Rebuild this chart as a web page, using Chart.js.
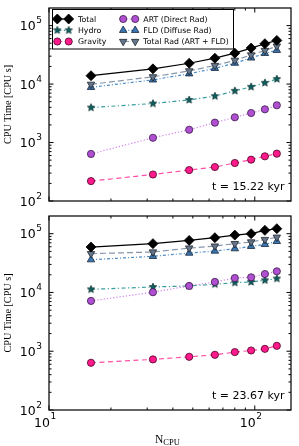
<!DOCTYPE html>
<html>
<head>
<meta charset="utf-8">
<script src="https://cdn.jsdelivr.net/npm/chart.js@4.4.1/dist/chart.umd.min.js"></script>
<style>
  html, body { margin: 0; padding: 0; background: #fff; }
  #wrap { position: relative; width: 299px; height: 446px; }
  canvas { position: absolute; left: 0; }
  #chartTop { top: 0; }
  #chartBot { top: 210px; }
</style>
</head>
<body>
<div id="wrap">
  <canvas id="chartTop" width="299" height="210"></canvas>
  <canvas id="chartBot" width="299" height="236"></canvas>
</div>
<script>
// CPU time scaling, two snapshots

const nCpu = [16, 32, 48, 64, 80, 96, 112, 128];

// upper panel (t = 15.22 kyr)
const totalTop = [13900, 18200, 22700, 27700, 33800, 41300, 49000, 55800];
const hydroTop = [3960, 4650, 5360, 6210, 7650, 8970, 10500, 12200];
const gravTop  = [219, 284, 338, 381, 447, 509, 581, 646];
const artTop   = [638, 1205, 1655, 2190, 2700, 3200, 3700, 4340];
const fldTop   = [8800, 11800, 15000, 18600, 22800, 28000, 33500, 37800];
const radTop   = [9900, 13300, 16800, 20800, 25500, 31500, 37500, 44500];

// lower panel (t = 23.67 kyr)
const totalBot = [59300, 67700, 76900, 85500, 94600, 100000, 114000, 121600];
const hydroBot = [11300, 12400, 12900, 13800, 14700, 15100, 16100, 17200];
const gravBot  = [636, 726, 804, 869, 966, 1030, 1097, 1236];
const artBot   = [7180, 10100, 12900, 15100, 17600, 18100, 20600, 22900];
const fldBot   = [36100, 41200, 46800, 50700, 55600, 61000, 65800, 74000];
const radBot   = [45700, 48800, 56900, 61600, 67700, 72400, 79500, 87100];

const seriesNames = ['Total', 'Hydro', 'Gravity', 'ART (Direct Rad)', 'FLD (Diffuse Rad)', 'Total Rad (ART + FLD)'];
const timeLabels = ['t = 15.22 kyr', 't = 23.67 kyr'];

const xMajor = [10, 100];
const xMinor = [20, 30, 40, 50, 60, 70, 80, 90];
const yMajor = [100, 1000, 10000, 100000];
const xMin = 10, xMax = 150;
const yMin = 100, yMax = 200000;

//-----MARKERS
function makeStar(r, fill, edge){
  const c = document.createElement('canvas');
  const s = Math.ceil(2 * r + 2);
  c.width = s; c.height = s;
  const g = c.getContext('2d');
  g.beginPath();
  for (let i = 0; i < 10; i++){
    const rr = i % 2 ? r * 0.45 : r;
    const a = -Math.PI / 2 + i * Math.PI / 5;
    g.lineTo(s / 2 + rr * Math.cos(a), s / 2 + rr * Math.sin(a));
  }
  g.closePath();
  g.fillStyle = fill; g.fill();
  g.lineWidth = 0.7; g.strokeStyle = edge; g.stroke();
  return c;
}
const starImg = makeStar(3.9, '#0f5f5f', '#062a2a');

const styles = [
  {line: '#000000', fill: '#000000', edge: '#000000', pt: 'rectRot',  r: 5,   rot: 0,   dash: [],             order: 0},
  {line: '#3a9e9e', fill: '#0f5f5f', edge: '#062a2a', pt: starImg,    r: 4,   rot: 0,   dash: [4, 2.5, 1.2, 2.5], order: 3},
  {line: '#ff4da6', fill: '#ff1a8c', edge: '#4a0026', pt: 'circle',   r: 3.6, rot: 0,   dash: [5, 3.5],       order: 2},
  {line: '#cf80ec', fill: '#b04fd2', edge: '#3a1a48', pt: 'circle',   r: 3.6, rot: 0,   dash: [1.2, 2],       order: 1},
  {line: '#4a8cc6', fill: '#3b77b3', edge: '#14243a', pt: 'triangle', r: 4.3, rot: 0,   dash: [3, 2, 1, 2],   order: 5},
  {line: '#8797aa', fill: '#66768a', edge: '#1e242c', pt: 'triangle', r: 4.3, rot: 180, dash: [6, 3],         order: 4}
];

function buildDatasets(series){
  return series.map((vals, i) => {
    const s = styles[i];
    return {
      label: seriesNames[i],
      data: nCpu.map((n, k) => ({x: n, y: vals[k]})),
      borderColor: s.line,
      borderWidth: 1.2,
      borderDash: s.dash,
      pointStyle: s.pt,
      pointRotation: s.rot,
      pointRadius: s.r,
      pointBackgroundColor: s.fill,
      pointBorderColor: s.edge,
      pointBorderWidth: 0.8,
      order: s.order,
      tension: 0,
      fill: false
    };
  });
}

//-----DECOR
function drawPow(ctx, exp, x, base, align){
  const main = '12.5px "DejaVu Sans"';
  const sup = '9px "DejaVu Sans"';
  ctx.font = sup;
  const ws = ctx.measureText(String(exp)).width;
  ctx.textBaseline = 'alphabetic';
  if (align === 'right'){
    ctx.font = main; ctx.textAlign = 'right';
    ctx.fillText('10', x - ws - 0.5, base);
    ctx.font = sup; ctx.textAlign = 'left';
    ctx.fillText(String(exp), x - ws, base - 7);
  } else {
    ctx.font = main; ctx.textAlign = 'right';
    ctx.fillText('10', x + 1, base);
    ctx.font = sup; ctx.textAlign = 'left';
    ctx.fillText(String(exp), x + 1.5, base - 7.5);
  }
}

function seg(ctx, x1, y1, x2, y2){
  ctx.beginPath(); ctx.moveTo(x1, y1); ctx.lineTo(x2, y2); ctx.stroke();
}

function drawLegend(chart){
  const ctx = chart.ctx;
  ctx.save();
  ctx.fillStyle = '#fff';
  ctx.fillRect(52.5, 9.5, 181, 39.5);
  ctx.strokeStyle = '#000'; ctx.lineWidth = 1;
  ctx.strokeRect(52.5, 9.5, 181, 39.5);
  const rows = [19, 30.3, 41.5];
  const cols = [[57.3, 68.7, 78], [123.2, 135.2, 143.3]];
  chart.data.datasets.forEach((ds, i) => {
    const c = cols[Math.floor(i / 3)];
    const y = rows[i % 3];
    ctx.strokeStyle = ds.borderColor; ctx.lineWidth = ds.borderWidth;
    ctx.setLineDash(ds.borderDash);
    seg(ctx, c[0], y, c[1], y);
    ctx.setLineDash([]);
    [c[0], c[1]].forEach(x => {
      ctx.fillStyle = ds.pointBackgroundColor;
      ctx.strokeStyle = ds.pointBorderColor;
      ctx.lineWidth = ds.pointBorderWidth;
      Chart.helpers.drawPoint(ctx, {pointStyle: ds.pointStyle, rotation: ds.pointRotation, radius: ds.pointRadius, borderWidth: ds.pointBorderWidth}, x, y);
    });
    ctx.fillStyle = '#000';
    ctx.font = '7.8px "DejaVu Sans"';
    ctx.textAlign = 'left'; ctx.textBaseline = 'alphabetic';
    ctx.fillText(ds.label, c[2], y + 2.9);
  });
  ctx.restore();
}

function panelDecor(timeText, isTop){
  return {
    id: 'panelDecor',
    afterDatasetsDraw(chart){
      const {ctx, chartArea: a, scales: {x, y}} = chart;
      ctx.save();
      // ticks, all pointing inward
      ctx.strokeStyle = '#000'; ctx.lineWidth = 1;
      xMajor.forEach(v => { const p = x.getPixelForValue(v); seg(ctx, p, a.bottom, p, a.bottom - 4.5); seg(ctx, p, a.top, p, a.top + 4.5); });
      xMinor.forEach(v => { const p = x.getPixelForValue(v); seg(ctx, p, a.bottom, p, a.bottom - 2.5); seg(ctx, p, a.top, p, a.top + 2.5); });
      yMajor.forEach(v => { const p = y.getPixelForValue(v); seg(ctx, a.left, p, a.left + 4.5, p); seg(ctx, a.right, p, a.right - 4.5, p); });
      yMajor.forEach(v => {
        for (let k = 2; k <= 9; k++){
          const val = v * k;
          if (val >= yMax) break;
          const p = y.getPixelForValue(val);
          seg(ctx, a.left, p, a.left + 2.5, p); seg(ctx, a.right, p, a.right - 2.5, p);
        }
      });
      // frame
      ctx.strokeStyle = '#111'; ctx.lineWidth = 1.3;
      ctx.strokeRect(a.left, a.top, a.right - a.left, a.bottom - a.top);

      // tick labels
      ctx.fillStyle = '#000';
      yMajor.forEach(v => drawPow(ctx, Math.round(Math.log10(v)), 42, y.getPixelForValue(v) + 4.5, 'right'));
      if (!isTop){
        xMajor.forEach(v => drawPow(ctx, Math.round(Math.log10(v)), x.getPixelForValue(v), a.bottom + 16.5, 'left'));
        // N_CPU
        ctx.font = '11.5px "Liberation Serif"'; ctx.textAlign = 'left'; ctx.textBaseline = 'alphabetic';
        ctx.fillText('N', 155, a.bottom + 33);
        const wN = ctx.measureText('N').width;
        ctx.font = '8.5px "Liberation Serif"';
        ctx.fillText('CPU', 155 + wN, a.bottom + 35);
      }

      // axis title
      ctx.save();
      ctx.translate(10.5, (a.top + a.bottom) / 2);
      ctx.rotate(-Math.PI / 2);
      ctx.font = '10.2px "Liberation Serif"'; ctx.textAlign = 'center'; ctx.textBaseline = 'alphabetic';
      ctx.fillText('CPU Time [CPU s]', 0, 0);
      ctx.restore();

      // time stamp
      ctx.font = '11px "DejaVu Sans"'; ctx.textAlign = 'right'; ctx.textBaseline = 'alphabetic';
      ctx.fillText(timeText, 284.5, a.bottom - 11.2);
      ctx.restore();

      if (isTop) drawLegend(chart);
    }
  };
}

function makePanel(canvasId, series, timeText, isTop){
  const ctx = document.getElementById(canvasId).getContext('2d');
  return new Chart(ctx, {
    type: 'line',
    data: {datasets: buildDatasets(series)},
    plugins: [panelDecor(timeText, isTop)],
    options: {
      responsive: false,
      animation: false,
      devicePixelRatio: 1,
      events: [],
      layout: {padding: isTop ? {top: 8, right: 8, bottom: 9, left: 0} : {top: 6, right: 8, bottom: 0, left: 0}},
      plugins: {legend: {display: false}, tooltip: {enabled: false}},
      scales: {
        x: {
          type: 'logarithmic', min: xMin, max: xMax,
          grid: {display: false, drawTicks: false}, border: {display: false},
          ticks: {display: false},
          afterFit: s => { s.height = isTop ? 0 : 36; }
        },
        y: {
          type: 'logarithmic', min: yMin, max: yMax,
          grid: {display: false, drawTicks: false}, border: {display: false},
          ticks: {display: false},
          afterFit: s => { s.width = 49; }
        }
      }
    }
  });
}

makePanel('chartTop', [totalTop, hydroTop, gravTop, artTop, fldTop, radTop], timeLabels[0], true);
makePanel('chartBot', [totalBot, hydroBot, gravBot, artBot, fldBot, radBot], timeLabels[1], false);
</script>
</body>
</html>
